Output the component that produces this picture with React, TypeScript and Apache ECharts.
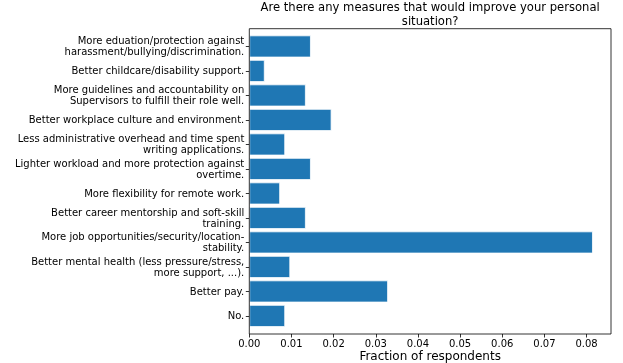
import React, { useEffect, useRef } from "react";
import * as echarts from "echarts";

const categories: string[] = [
  "More eduation/protection against\nharassment/bullying/discrimination.",
  "Better childcare/disability support.",
  "More guidelines and accountability on\nSupervisors to fulfill their role well.",
  "Better workplace culture and environment.",
  "Less administrative overhead and time spent\nwriting applications.",
  "Lighter workload and more protection against\novertime.",
  "More flexibility for remote work.",
  "Better career mentorship and soft-skill\ntraining.",
  "More job opportunities/security/location-\nstability.",
  "Better mental health (less pressure/stress,\nmore support, ...).",
  "Better pay.",
  "No.",
];

const fractions: number[] = [
  0.0146, 0.00365, 0.0134, 0.0195, 0.0085, 0.0146, 0.0073, 0.0134, 0.0815,
  0.0097, 0.0329, 0.0085,
];

const tickStep = 0.01;

const titleText = "Are there any measures that would improve your personal\nsituation?";
const xAxisName = "Fraction of respondents";

const FONT = "DejaVu Sans";

export default function App() {
  const ref = useRef<HTMLDivElement>(null);

  useEffect(() => {
    if (!ref.current) return;
    const chart = echarts.init(ref.current, undefined, { renderer: "svg" });
    const W = 623;
    const H = 363;
    const gridLeft = 249.3;
    const gridRight = 12;
    const frameTop = 28.7;
    const frameBottom = 334;
    const catTop = 34.2;
    const catBottom = 328.2;
    const xMax = 0.0858;
    chart.setOption({
      animation: false,
      textStyle: { fontFamily: FONT, color: "#000" },
      title: {
        text: titleText,
        left: (gridLeft + (W - gridRight)) / 2,
        top: 0,
        textAlign: "center",
        padding: 0,
        textStyle: {
          fontFamily: FONT,
          fontSize: 11.6,
          fontWeight: "normal",
          color: "#000",
          lineHeight: 14,
        },
      },
      grid: [
        {
          left: gridLeft,
          right: gridRight,
          top: frameTop,
          bottom: H - frameBottom,
          containLabel: false,
          outerBoundsMode: "none",
        },
        {
          left: gridLeft,
          right: gridRight,
          top: catTop,
          bottom: H - catBottom,
          containLabel: false,
          outerBoundsMode: "none",
        },
      ],
      xAxis: [
        {
          type: "value",
          gridIndex: 0,
          min: 0,
          max: xMax,
          interval: tickStep,
          splitLine: { show: false },
          axisLine: { show: false },
          axisTick: {
            show: true,
            length: 3.5,
            lineStyle: { color: "#000", width: 0.8 },
          },
          axisLabel: {
            showMaxLabel: false,
            formatter: (v: number) => v.toFixed(2),
            fontFamily: FONT,
            fontSize: 10,
            color: "#000",
            margin: 4,
          },
          name: xAxisName,
          nameLocation: "middle",
          nameGap: 16,
          nameMoveOverlap: false,
          nameTextStyle: {
            fontFamily: FONT,
            fontSize: 12,
            color: "#000",
            verticalAlign: "top",
          },
        },
        {
          type: "value",
          gridIndex: 1,
          min: 0,
          max: xMax,
          show: false,
        },
      ],
      yAxis: [
        {
          type: "value",
          gridIndex: 0,
          min: 0,
          max: 1,
          show: false,
        },
        {
          type: "category",
          gridIndex: 1,
          data: categories,
          inverse: true,
          axisLine: { show: false },
          axisTick: {
            show: true,
            alignWithLabel: true,
            length: 3.5,
            lineStyle: { color: "#000", width: 0.8 },
          },
          axisLabel: {
            fontFamily: FONT,
            fontSize: 10,
            color: "#000",
            margin: 5,
            lineHeight: 11,
            interval: 0,
          },
        },
      ],
      series: [
        {
          type: "bar",
          xAxisIndex: 1,
          yAxisIndex: 1,
          data: fractions,
          barCategoryGap: "10%",
          itemStyle: { color: "#1f77b4", borderColor: "#ffffff", borderWidth: 0.8 },
        },
      ],
      graphic: [
        {
          type: "rect",
          shape: {
            x: gridLeft,
            y: frameTop,
            width: W - gridRight - gridLeft,
            height: frameBottom - frameTop,
          },
          style: { fill: "none", stroke: "#000", lineWidth: 0.8 },
          z: 100,
          silent: true,
        },
      ],
    });
    return () => chart.dispose();
  }, []);

  return (
    <div
      ref={ref}
      style={{ position: "fixed", left: 0, top: 0, width: 623, height: 363 }}
    />
  );
}
